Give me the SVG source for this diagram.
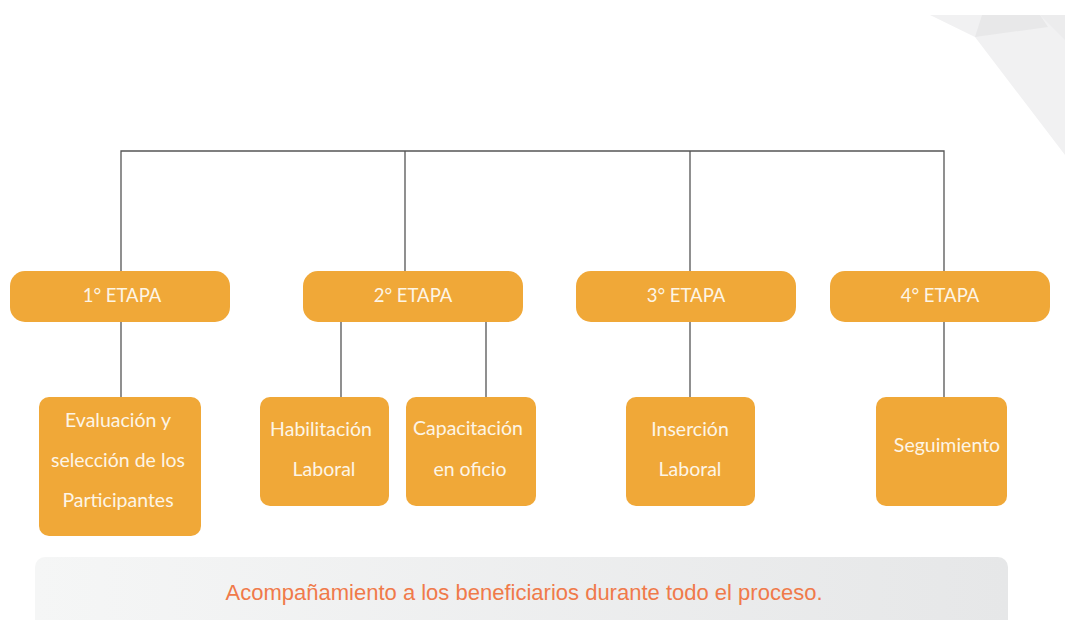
<svg xmlns="http://www.w3.org/2000/svg" width="1065" height="620" viewBox="0 0 1065 620">
<defs>
<style>
.box{fill:#f0a838;}
.t{font-family:Lato,"Open Sans",sans-serif;font-size:19.5px;fill:#fdf5e6;text-anchor:middle;}
.e{font-size:18.5px;}
.ln{stroke:#555;stroke-width:1.3;fill:none;}
.bar{font-family:"Liberation Sans",Arial,sans-serif;font-size:22px;fill:#f07a4a;text-anchor:middle;}
</style>
<linearGradient id="g" x1="0" x2="1" y1="0" y2="0">
<stop offset="0" stop-color="#f5f6f6"/>
<stop offset="1" stop-color="#e6e7e8"/>
</linearGradient>
</defs>
<rect width="1065" height="620" fill="#ffffff"/>
<g id="decor">
<polygon points="930,15 1065,15 1065,155 975,37" fill="#f1f1f2"/>
<polygon points="975,37 982,15 1040,15 1048,27" fill="#e8e8e9"/>
<polygon points="1040,15 1065,15 1065,40" fill="#ececed"/>
</g>
<g id="connectors">
<path class="ln" d="M121,271 V151 H944 V271 M405,151 V271 M690,151 V271"/>
<path class="ln" d="M121,322 V397 M341,322 V397 M486,322 V397 M690,322 V397 M944,322 V397"/>
</g>
<g id="etapa1"><rect class="box" x="10" y="271" width="220" height="51" rx="15"/><text class="t e" x="122" y="302">1° ETAPA</text></g>
<g id="etapa2"><rect class="box" x="303" y="271" width="220" height="51" rx="15"/><text class="t e" x="413" y="302">2° ETAPA</text></g>
<g id="etapa3"><rect class="box" x="576" y="271" width="220" height="51" rx="15"/><text class="t e" x="686" y="302">3° ETAPA</text></g>
<g id="etapa4"><rect class="box" x="830" y="271" width="220" height="51" rx="15"/><text class="t e" x="940" y="302">4° ETAPA</text></g>
<g id="evaluacion"><rect class="box" x="39" y="397" width="162" height="139" rx="10"/>
<text class="t" x="118" y="427">Evaluación  y</text>
<text class="t" x="118" y="467">selección  de los</text>
<text class="t" x="118" y="507">Participantes</text></g>
<g id="habilitacion"><rect class="box" x="260" y="397" width="129" height="109" rx="10"/>
<text class="t" x="321" y="436">Habilitación</text>
<text class="t" x="324" y="476">Laboral</text></g>
<g id="capacitacion"><rect class="box" x="406" y="397" width="130" height="109" rx="10"/>
<text class="t" x="468" y="435">Capacitación</text>
<text class="t" x="470" y="476">en oficio</text></g>
<g id="insercion"><rect class="box" x="626" y="397" width="129" height="109" rx="10"/>
<text class="t" x="690" y="436">Inserción</text>
<text class="t" x="690" y="476">Laboral</text></g>
<g id="seguimiento"><rect class="box" x="876" y="397" width="131" height="109" rx="10"/>
<text class="t" x="947" y="452">Seguimiento</text></g>
<g id="acompanamiento"><rect x="35" y="557" width="973" height="80" rx="10" fill="url(#g)"/>
<text class="bar" x="524" y="600" textLength="597" lengthAdjust="spacingAndGlyphs">Acompañamiento a los beneficiarios durante todo el proceso.</text></g>
</svg>
